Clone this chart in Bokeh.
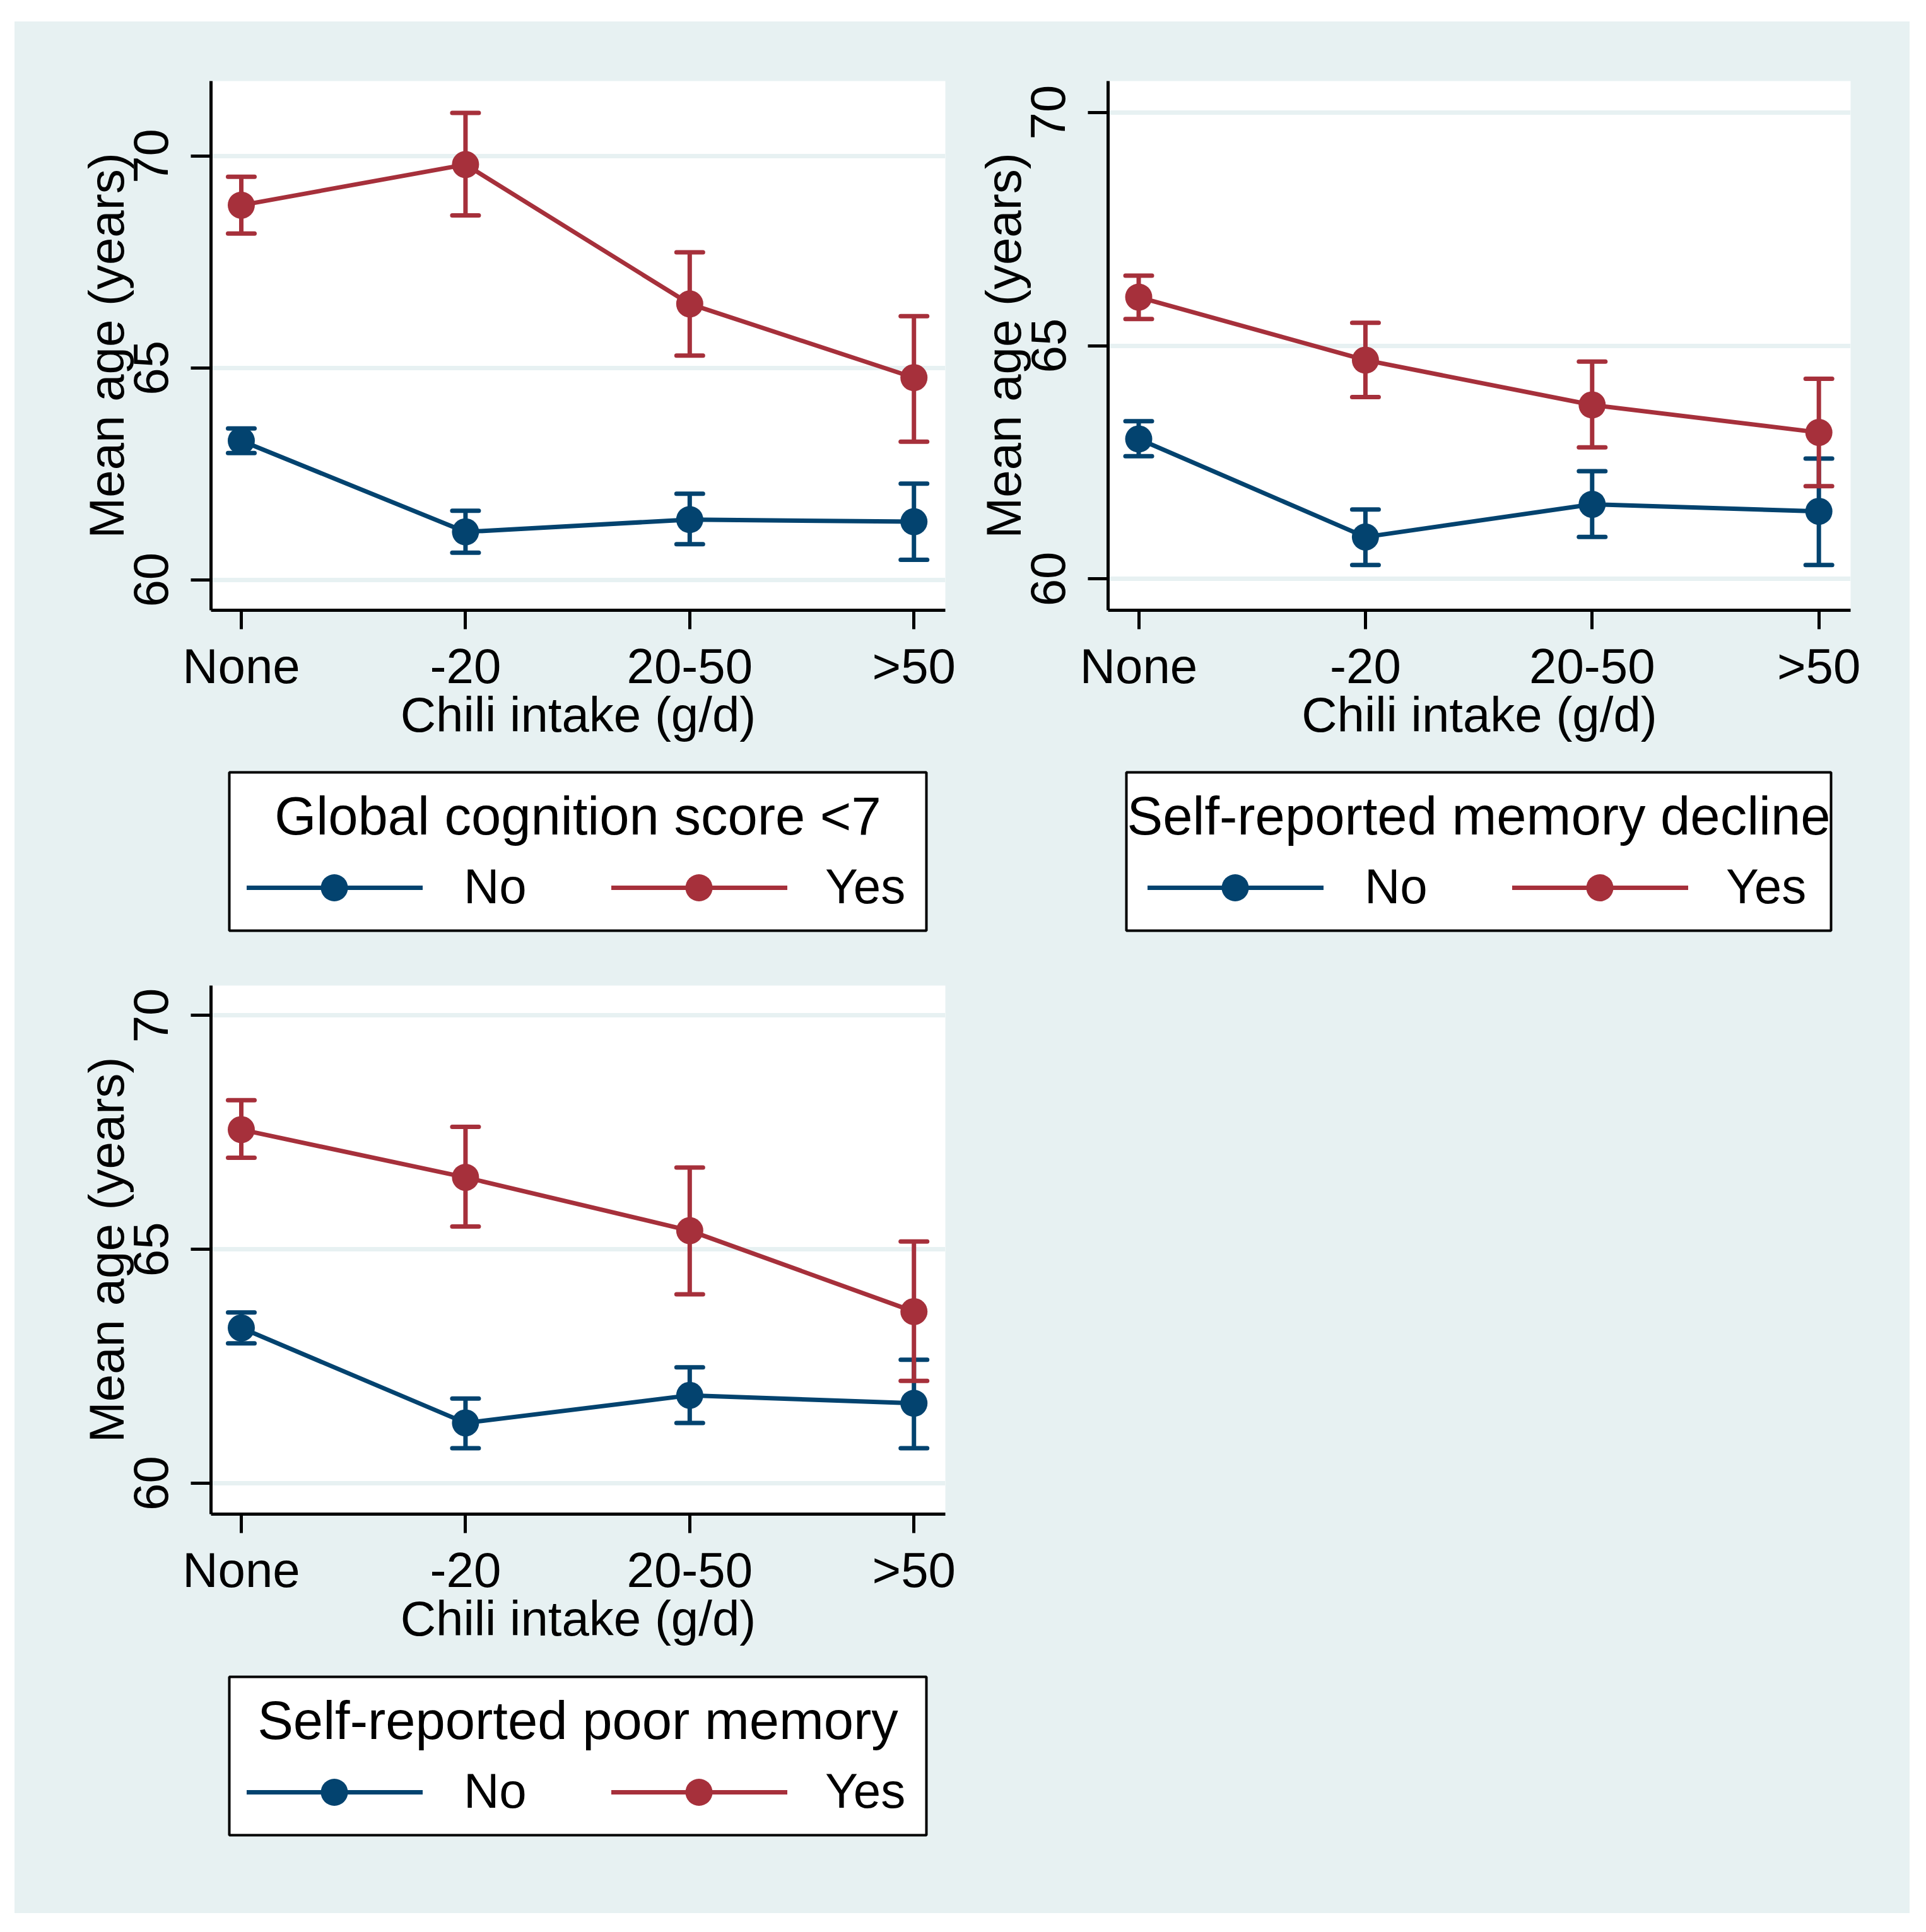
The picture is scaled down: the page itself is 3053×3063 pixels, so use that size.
from bokeh.plotting import figure
from bokeh.models import ColumnDataSource, Whisker, TeeHead, Range1d, FixedTicker
from bokeh.layouts import row, column
from bokeh.core.properties import value
from bokeh.embed import file_html
from bokeh.resources import INLINE

# ---------------- data ----------------
categories = ["None", "-20", "20-50", ">50"]
cat_pos = [1, 2, 3, 4]
x_title = "Chili intake (g/d)"
y_title = "Mean age (years)"
group_labels = ["No", "Yes"]

titles = ["Global cognition score <7", "Self-reported memory decline", "Self-reported poor memory"]

# panel 1: Global cognition score <7
p1_no_mean = [63.28, 61.13, 61.42, 61.37]
p1_no_lo = [62.99, 60.64, 60.84, 60.47]
p1_no_hi = [63.57, 61.63, 62.03, 62.27]
p1_yes_mean = [68.84, 69.80, 66.51, 64.77]
p1_yes_lo = [68.17, 68.60, 65.29, 63.26]
p1_yes_hi = [69.51, 71.02, 67.73, 66.22]

# panel 2: Self-reported memory decline
p2_no_mean = [63.00, 60.90, 61.60, 61.45]
p2_no_lo = [62.63, 60.30, 60.90, 60.30]
p2_no_hi = [63.38, 61.49, 62.31, 62.58]
p2_yes_mean = [66.04, 64.69, 63.73, 63.14]
p2_yes_lo = [65.57, 63.90, 62.82, 61.99]
p2_yes_hi = [66.50, 65.49, 64.66, 64.29]

# panel 3: Self-reported poor memory
p3_no_mean = [63.32, 61.29, 61.88, 61.71]
p3_no_lo = [62.99, 60.75, 61.29, 60.75]
p3_no_hi = [63.65, 61.81, 62.48, 62.64]
p3_yes_mean = [67.56, 66.54, 65.40, 63.67]
p3_yes_lo = [66.96, 65.49, 64.04, 62.19]
p3_yes_hi = [68.19, 67.62, 66.75, 65.17]

y_ticks = [60, 65, 70]

# ---------------- style ----------------
BG = "#E7F1F2"
BLUE = "#03436F"
RED = "#A6303B"
FONT = "Liberation Sans"
LW = 7


def make_plot(no, yes, yrange, mb_left, fw, mb_right, mb_top, fh, mb_bottom):
    p = figure(frame_width=fw, frame_height=fh,
               min_border_left=mb_left, min_border_right=mb_right,
               min_border_top=mb_top, min_border_bottom=mb_bottom,
               x_range=Range1d(0.865, 4.14), y_range=Range1d(*yrange),
               output_backend="svg", toolbar_location=None,
               background_fill_color="white", border_fill_color=BG)
    p.frame_align = False
    p.outline_line_color = None
    p.xgrid.visible = False
    p.ygrid.ticker = FixedTicker(ticks=y_ticks)
    p.ygrid.grid_line_color = BG
    p.ygrid.grid_line_width = 7

    p.xaxis.ticker = FixedTicker(ticks=cat_pos)
    p.xaxis.major_label_overrides = {c: l for c, l in zip(cat_pos, categories)}
    p.yaxis.ticker = FixedTicker(ticks=y_ticks)
    p.yaxis.major_label_orientation = "vertical"
    p.xaxis.axis_label = x_title
    p.yaxis.axis_label = y_title
    for ax in (p.xaxis, p.yaxis):
        ax.axis_line_width = 5
        ax.axis_line_color = "black"
        ax.major_tick_line_width = 5
        ax.major_tick_line_color = "black"
        ax.major_tick_in = 0
        ax.minor_tick_in = 0
        ax.minor_tick_out = 0
        ax.major_label_text_font = FONT
        ax.major_label_text_font_size = "78px"
        ax.major_label_text_color = "black"
        ax.axis_label_text_font = FONT
        ax.axis_label_text_font_size = "78px"
        ax.axis_label_text_font_style = "normal"
        ax.axis_label_text_color = "black"
    p.xaxis.major_tick_out = 30
    p.yaxis.major_tick_out = 32
    p.xaxis.major_label_standoff = 14
    p.yaxis.major_label_standoff = 36
    p.xaxis.axis_label_standoff = -14
    p.yaxis.axis_label_standoff = -3

    srcs = []
    for (mean, lo, hi), col in zip((no, yes), (BLUE, RED)):
        src = ColumnDataSource(dict(x=cat_pos, y=mean, lo=lo, hi=hi))
        srcs.append((src, col))
        w = Whisker(source=src, base="x", upper="hi", lower="lo", dimension="height",
                    line_color=col, line_width=LW,
                    upper_head=TeeHead(size=42, line_color=col, line_width=LW, line_cap="round"),
                    lower_head=TeeHead(size=42, line_color=col, line_width=LW, line_cap="round"))
        p.add_layout(w)
    for src, col in srcs:
        p.line("x", "y", source=src, line_color=col, line_width=LW)
        p.scatter("x", "y", source=src, marker="circle", size=43,
                  fill_color=col, line_color=col, line_width=0)
    return p


def make_legend(title, mb_left, bw, mb_right, mb_top, bh, mb_bottom):
    lg = figure(frame_width=bw, frame_height=bh,
                min_border_left=mb_left, min_border_right=mb_right,
                min_border_top=mb_top, min_border_bottom=mb_bottom,
                x_range=Range1d(-bw / 2, bw / 2), y_range=Range1d(0, bh),
                x_axis_type=None, y_axis_type=None,
                output_backend="svg", toolbar_location=None,
                background_fill_color="white", border_fill_color=BG)
    lg.frame_align = False
    lg.grid.visible = False
    lg.outline_line_color = "black"
    lg.outline_line_width = 4
    # title
    lg.text(x=[0], y=[bh - 104 + 35], text=[title], text_align="center",
            text_baseline="alphabetic", text_font=value(FONT),
            text_font_size="85px", text_color="black")
    # keys (layout offsets from centre of the legend box)
    key_line = [(-525, -246), (53, 332)]
    key_mark = [-386, 192]
    key_text = [-181, 392]
    ky = bh - 183
    for (x0, x1), xm, xt, col, lab in zip(key_line, key_mark, key_text, (BLUE, RED), group_labels):
        lg.segment(x0=[x0], y0=[ky], x1=[x1], y1=[ky], line_color=col, line_width=LW)
        lg.scatter(x=[xm], y=[ky], marker="circle", size=43, fill_color=col,
                   line_color=col, line_width=0)
        lg.text(x=[xt], y=[bh - 213 + 33], text=[lab], text_align="left",
                text_baseline="alphabetic", text_font=value(FONT),
                text_font_size="78px", text_color="black")
    return lg


f1 = make_plot((p1_no_mean, p1_no_lo, p1_no_hi), (p1_yes_mean, p1_yes_lo, p1_yes_hi),
               (59.28, 71.77), 311, 1164, 32, 94, 839, 233)
l1 = make_legend(titles[0], 340, 1105, 62, 24, 251, 5)
f2 = make_plot((p2_no_mean, p2_no_lo, p2_no_hi), (p2_yes_mean, p2_yes_lo, p2_yes_hi),
               (59.33, 70.67), 226, 1177, 94, 94, 839, 233)
l2 = make_legend(titles[1], 255, 1117, 125, 24, 251, 5)
f3 = make_plot((p3_no_mean, p3_no_lo, p3_no_hi), (p3_yes_mean, p3_yes_lo, p3_yes_hi),
               (59.34, 70.64), 311, 1164, 32, 82, 838, 234)
l3 = make_legend(titles[2], 340, 1105, 62, 24, 251, 124)

filler = figure(width=1497, height=1553, x_axis_type=None, y_axis_type=None,
                output_backend="svg", toolbar_location=None,
                background_fill_color=BG, border_fill_color=BG,
                min_border=0, x_range=Range1d(0, 1), y_range=Range1d(0, 1))
filler.frame_align = False
filler.outline_line_color = None
filler.grid.visible = False

bg_style = {"background-color": BG}
left = column(f1, l1, f3, l3, spacing=0, styles=bg_style)
right = column(f2, l2, filler, spacing=0, styles=bg_style)
layout = row(left, right, spacing=0, margin=(34, 0, 0, 23), styles=bg_style)

open("out.html", "w").write(file_html(layout, INLINE))
